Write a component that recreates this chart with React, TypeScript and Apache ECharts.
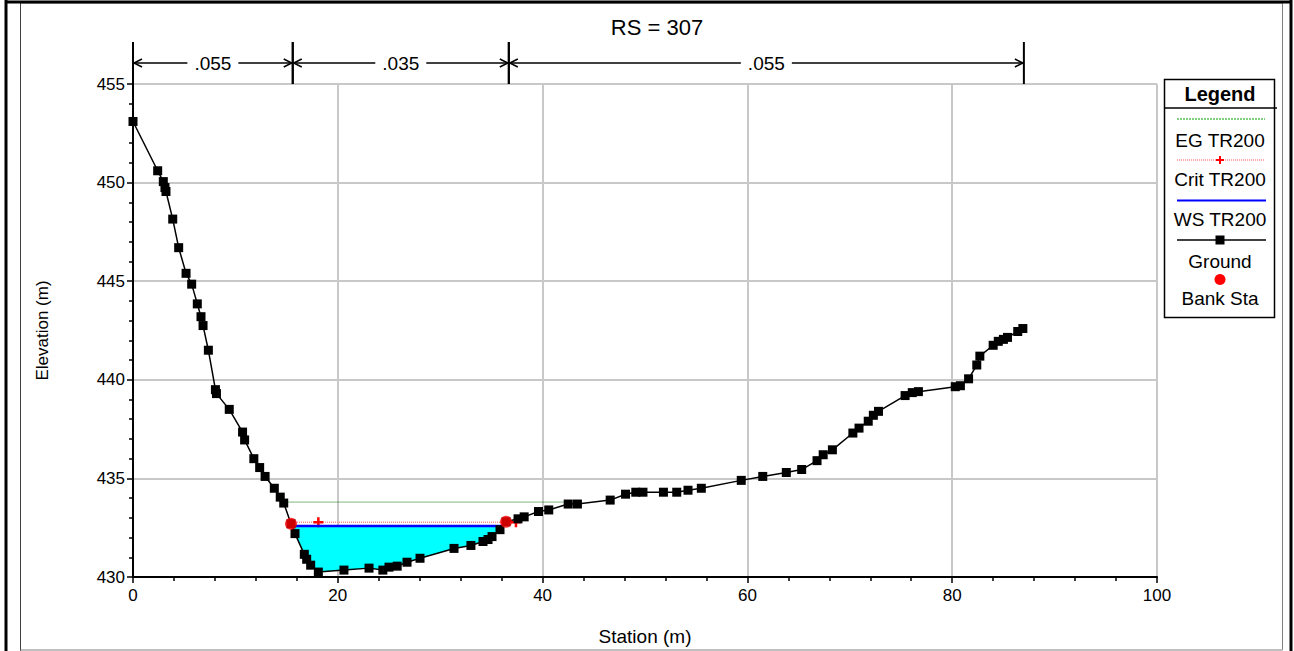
import React, { useEffect, useRef } from "react";
import * as echarts from "echarts";

// ---- Data ----
const groundStation = [
  0, 2.41, 2.96, 3.12, 3.22, 3.88, 4.46, 5.18, 5.73, 6.28, 6.64, 6.84, 7.36, 8.05, 8.15, 9.4,
  10.7, 10.9, 11.8, 12.37, 12.9, 13.8, 14.38, 14.72, 15.43, 15.82, 16.73, 16.96, 17.35, 18.1,
  20.6, 23.05, 24.4, 25.0, 25.8, 26.76, 28.03, 31.35, 33.0, 34.18, 34.67, 35.06, 35.84, 36.43,
  37.6, 38.2, 39.6, 40.6, 42.5, 43.4, 46.6, 48.1, 49.1, 49.8, 51.8, 53.1, 54.2, 55.5, 59.4,
  61.5, 63.8, 65.3, 66.8, 67.4, 68.3, 70.3, 70.9, 71.8, 72.3, 72.8, 75.4, 76.1, 76.7, 80.3,
  80.8, 81.6, 82.4, 82.7, 84.0, 84.5, 85.0, 85.4, 86.4, 86.9,
];
const groundElev = [
  453.1, 450.6, 450.05, 449.75, 449.55, 448.15, 446.7, 445.4, 444.85, 443.85, 443.2, 442.75,
  441.5, 439.5, 439.3, 438.5, 437.35, 436.95, 436.0, 435.55, 435.1, 434.5, 434.05, 433.75,
  432.7, 432.2, 431.15, 430.9, 430.6, 430.25, 430.35, 430.45, 430.35, 430.5, 430.55, 430.75,
  430.95, 431.45, 431.6, 431.8, 431.9, 432.05, 432.4, 432.8, 432.95, 433.05, 433.32, 433.4,
  433.7, 433.7, 433.9, 434.2, 434.3, 434.3, 434.3, 434.3, 434.4, 434.5, 434.9, 435.1, 435.3,
  435.45, 435.9, 436.2, 436.45, 437.3, 437.55, 437.9, 438.2, 438.4, 439.2, 439.35, 439.4,
  439.65, 439.7, 440.05, 440.75, 441.2, 441.75, 441.95, 442.05, 442.15, 442.45, 442.6,
];
const bankStation = [15.43, 36.43];
const bankElev = [432.7, 432.8];
const wsElev = 432.58;
const critElev = 432.78;
const critStation = [15.43, 18.1, 37.4];
const egElev = 433.8;
const egStation = [14.6, 43.0];
const nBounds = [0, 15.6, 36.7, 87.0];
const nValues = [".055", ".035", ".055"];
const xMin = 0, xMax = 100, xStep = 20;
const yMin = 430, yMax = 455, yStep = 5;
const titleText = "RS = 307";
const legendNames = ["EG TR200", "Crit TR200", "WS TR200", "Ground", "Bank Sta"];

const FONT = "'Liberation Sans', Arial, sans-serif";

function waterPolygon(): number[][] {
  const n = groundStation.length;
  let li = -1, ri = -1;
  for (let i = 0; i < n - 1; i++) {
    if (li < 0 && groundElev[i] >= wsElev && groundElev[i + 1] < wsElev) li = i;
    if (groundElev[i] < wsElev && groundElev[i + 1] >= wsElev) ri = i;
  }
  const interp = (i: number) => {
    const e0 = groundElev[i], e1 = groundElev[i + 1];
    const t = (wsElev - e0) / (e1 - e0);
    return groundStation[i] + t * (groundStation[i + 1] - groundStation[i]);
  };
  const pts: number[][] = [[interp(li), wsElev]];
  for (let i = li + 1; i <= ri; i++) pts.push([groundStation[i], groundElev[i]]);
  pts.push([interp(ri), wsElev]);
  return pts;
}

export default function App() {
  const ref = useRef<HTMLDivElement>(null);
  useEffect(() => {
    if (!ref.current) return;
    const chart = echarts.init(ref.current, undefined, { renderer: "svg" });
    const poly = waterPolygon();
    const wsLeft = poly[0][0];
    const wsRight = poly[poly.length - 1][0];
    const plusPath = "path://M3,0H5V3H8V5H5V8H3V5H0V3H3Z";

    const lx = 1220;
    const legendGraphics: any[] = [
      { type: "rect", shape: { x: 1164.5, y: 79.5, width: 110, height: 238 }, style: { fill: "#fff", stroke: "#000", lineWidth: 1.5 } },
      { type: "line", shape: { x1: 1164, y1: 108, x2: 1277, y2: 108 }, style: { stroke: "#000", lineWidth: 1.5 } },
      { type: "text", x: lx, y: 94, style: { text: "Legend", font: `bold 20px ${FONT}`, fill: "#000", align: "center", verticalAlign: "middle" } },
      // EG
      { type: "line", shape: { x1: 1177, y1: 119, x2: 1265, y2: 119 }, style: { stroke: "#00a000", lineWidth: 1, lineDash: [2, 1] } },
      { type: "text", x: lx, y: 140, style: { text: legendNames[0], font: `19px ${FONT}`, fill: "#000", align: "center", verticalAlign: "middle" } },
      // Crit
      { type: "line", shape: { x1: 1177, y1: 160, x2: 1265, y2: 160 }, style: { stroke: "#ff9090", lineWidth: 1.5, lineDash: [1, 1] } },
      { type: "line", shape: { x1: lx - 4, y1: 160, x2: lx + 4, y2: 160 }, style: { stroke: "#ff0000", lineWidth: 2 } },
      { type: "line", shape: { x1: lx, y1: 156, x2: lx, y2: 164 }, style: { stroke: "#ff0000", lineWidth: 2 } },
      { type: "text", x: lx, y: 179, style: { text: legendNames[1], font: `19px ${FONT}`, fill: "#000", align: "center", verticalAlign: "middle" } },
      // WS
      { type: "line", shape: { x1: 1177, y1: 200.5, x2: 1266, y2: 200.5 }, style: { stroke: "#0000ff", lineWidth: 2 } },
      { type: "text", x: lx, y: 219, style: { text: legendNames[2], font: `19px ${FONT}`, fill: "#000", align: "center", verticalAlign: "middle" } },
      // Ground
      { type: "line", shape: { x1: 1177, y1: 240, x2: 1266, y2: 240 }, style: { stroke: "#000", lineWidth: 1.5 } },
      { type: "rect", shape: { x: lx - 4.5, y: 235.5, width: 9, height: 9 }, style: { fill: "#000" } },
      { type: "text", x: lx, y: 261, style: { text: legendNames[3], font: `19px ${FONT}`, fill: "#000", align: "center", verticalAlign: "middle" } },
      // Bank
      { type: "circle", shape: { cx: lx, cy: 279.5, r: 5.5 }, style: { fill: "#ff0000" } },
      { type: "text", x: lx, y: 298, style: { text: legendNames[4], font: `19px ${FONT}`, fill: "#000", align: "center", verticalAlign: "middle" } },
    ];

    const frameGraphics: any[] = [
      { type: "rect", shape: { x: 20.5, y: 3, width: 1262, height: 647 }, style: { fill: "none", stroke: "#808080", lineWidth: 1 } },
      { type: "line", shape: { x1: 20.5, y1: 3, x2: 20.5, y2: 651 }, style: { stroke: "#404040", lineWidth: 1 } },
      { type: "line", shape: { x1: 20.5, y1: 650, x2: 1283, y2: 650 }, style: { stroke: "#c0c0c0", lineWidth: 1 } },
      { type: "line", shape: { x1: 6, y1: 0, x2: 6, y2: 651 }, style: { stroke: "#000", lineWidth: 3 } },
      { type: "line", shape: { x1: 1291, y1: 0, x2: 1291, y2: 651 }, style: { stroke: "#000", lineWidth: 3 } },
      { type: "line", shape: { x1: 5, y1: 2, x2: 1292, y2: 2 }, style: { stroke: "#000", lineWidth: 3 } },
      { type: "text", x: 657, y: 27, style: { text: titleText, font: `22px ${FONT}`, fill: "#000", align: "center", verticalAlign: "middle" } },
    ];

    const nData = nValues.map((v, i) => [nBounds[i], nBounds[i + 1], v]);

    const option: any = {
      animation: false,
      backgroundColor: "#fff",
      grid: { left: 133, top: 84, right: 137, bottom: 73, containLabel: false },
      xAxis: {
        type: "value", min: xMin, max: xMax, interval: xStep,
        name: "Station (m)", nameLocation: "middle", nameGap: 50,
        nameTextStyle: { color: "#000", fontSize: 19, fontFamily: FONT },
        axisLine: { show: true, onZero: false, lineStyle: { color: "#000", width: 2 } },
        axisTick: { show: true, length: 6, lineStyle: { color: "#000", width: 1.5 } },
        minorTick: { show: true, splitNumber: 5, length: 4, lineStyle: { color: "#000", width: 1.5 } },
        splitLine: { show: true, lineStyle: { color: "#c8c8c8", width: 2 } },
        axisLabel: { color: "#000", fontSize: 17, fontFamily: FONT, margin: 10 },
      },
      yAxis: {
        type: "value", min: yMin, max: yMax, interval: yStep,
        name: "Elevation (m)", nameLocation: "middle", nameGap: 82, nameRotate: 90,
        nameTextStyle: { color: "#000", fontSize: 17, fontFamily: FONT },
        axisLine: { show: true, onZero: false, lineStyle: { color: "#000", width: 2 } },
        axisTick: { show: true, length: 6, lineStyle: { color: "#000", width: 1.5 } },
        minorTick: { show: true, splitNumber: 5, length: 4, lineStyle: { color: "#000", width: 1.5 } },
        splitLine: { show: true, lineStyle: { color: "#c8c8c8", width: 2 } },
        axisLabel: { color: "#000", fontSize: 17, fontFamily: FONT, margin: 8 },
      },
      series: [
        {
          type: "custom", name: "water", z: 1,
          data: poly,
          renderItem: (params: any, api: any) => {
            if (params.dataIndex !== 0) return null;
            const pts = poly.map((p) => api.coord(p));
            return { type: "polygon", shape: { points: pts }, style: { fill: "#00ffff", stroke: "none" } };
          },
        },
        {
          type: "line", name: legendNames[0], z: 2, symbol: "none",
          data: egStation.map((s) => [s, egElev]),
          lineStyle: { color: "#007000", width: 1, type: [1, 1] },
        },
        {
          type: "line", name: legendNames[1], z: 3,
          data: critStation.map((s, i) => ({ value: [s, critElev], symbol: i === 0 ? "none" : plusPath })),
          symbolSize: 10,
          itemStyle: { color: "#ff0000" },
          lineStyle: { color: "#ff9090", width: 1.5, type: [1, 1] },
        },
        {
          type: "line", name: legendNames[2], z: 4, symbol: "none",
          data: [[wsLeft, wsElev], [wsRight, wsElev]],
          lineStyle: { color: "#0000ff", width: 2.5 },
        },
        {
          type: "line", name: legendNames[3], z: 5,
          data: groundStation.map((s, i) => [s, groundElev[i]]),
          symbol: "rect", symbolSize: 9, showAllSymbol: true,
          itemStyle: { color: "#000" },
          lineStyle: { color: "#000", width: 1.5 },
        },
        {
          type: "scatter", name: legendNames[4], z: 6,
          data: bankStation.map((s, i) => [s, bankElev[i]]),
          symbol: "circle", symbolSize: 12,
          itemStyle: { color: "#ff0000" },
        },
        {
          type: "custom", name: "nValues", z: 7, clip: false,
          data: nData,
          renderItem: (params: any, api: any) => {
            const x1 = api.coord([api.value(0), yMax])[0];
            const x2 = api.coord([api.value(1), yMax])[0];
            const top = api.coord([xMin, yMax])[1];
            const yl = top - 21;
            const label = nValues[params.dataIndex];
            return {
              type: "group",
              children: [
                { type: "line", shape: { x1, y1: top - 42, x2: x1, y2: top }, style: { stroke: "#000", lineWidth: 2 } },
                { type: "line", shape: { x1: x2, y1: top - 42, x2, y2: top }, style: { stroke: "#000", lineWidth: 2 } },
                { type: "line", shape: { x1, y1: yl, x2, y2: yl }, style: { stroke: "#000", lineWidth: 1.5 } },
                { type: "polyline", shape: { points: [[x1 + 9, yl - 4], [x1 + 1, yl], [x1 + 9, yl + 4]] }, style: { stroke: "#000", lineWidth: 1.5, fill: "none" } },
                { type: "polyline", shape: { points: [[x2 - 9, yl - 4], [x2 - 1, yl], [x2 - 9, yl + 4]] }, style: { stroke: "#000", lineWidth: 1.5, fill: "none" } },
                {
                  type: "text", x: (x1 + x2) / 2, y: yl,
                  style: {
                    text: label, font: `19px ${FONT}`, fill: "#000",
                    align: "center", verticalAlign: "middle",
                    textAlign: "center", textVerticalAlign: "middle",
                    backgroundColor: "#fff", padding: [0, 7],
                  },
                },
              ],
            };
          },
        },
      ],
      graphic: [...frameGraphics, ...legendGraphics],
    };
    chart.setOption(option);
    return () => chart.dispose();
  }, []);
  return (
    <div
      ref={ref}
      style={{ position: "absolute", left: 0, top: 0, width: 1294, height: 651, background: "#fff" }}
    />
  );
}
